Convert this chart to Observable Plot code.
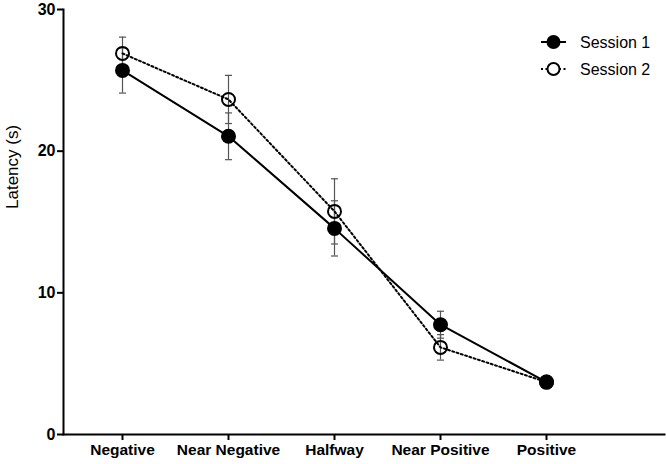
<!DOCTYPE html>
<html>
<head>
<meta charset="utf-8">
<script src="https://cdn.jsdelivr.net/npm/d3@7"></script>
<script src="https://cdn.jsdelivr.net/npm/@observablehq/plot@0.6"></script>
<style>
  body { margin: 0; background: #fff; }
  #wrap { position: relative; width: 666px; height: 464px; font-family: "Liberation Sans", Arial, sans-serif; }
  #wrap svg.plot { display: block; }
  #legend { position: absolute; left: 0; top: 0; pointer-events: none; }
</style>
</head>
<body>
<div id="wrap"></div>
<script>
const categories = ["Negative", "Near Negative", "Halfway", "Near Positive", "Positive"];
const session1 = [25.7, 21.05, 14.55, 7.75, 3.7];
const session1Err = [1.6, 1.65, 1.95, 0.95, 0.3];
const session2 = [26.9, 23.65, 15.75, 6.15, 3.7];
const session2Err = [1.15, 1.7, 2.3, 0.9, 0.3];
const yTicks = [0, 10, 20, 30];
const seriesNames = ["Session 1", "Session 2"];
const yLabel = "Latency (s)";

const s1 = categories.map((c, i) => ({cat: c, v: session1[i], e: session1Err[i]}));
const s2 = categories.map((c, i) => ({cat: c, v: session2[i], e: session2Err[i]}));
const all = s1.concat(s2);

const capSymbol = {
  draw(context, size) {
    const w = Math.sqrt(size);
    context.moveTo(-w / 2, 0);
    context.lineTo(w / 2, 0);
  }
};

const chart = Plot.plot({
  width: 666,
  height: 464,
  marginLeft: 63,
  marginRight: 2,
  marginTop: 9,
  marginBottom: 30,
  style: {fontFamily: '"Liberation Sans", Arial, sans-serif', color: "black", background: "white"},
  x: {type: "point", domain: categories, range: [120, 547], padding: 0},
  y: {domain: [0, 30]},
  marks: [
    Plot.axisY({ticks: yTicks, tickSize: 6, tickPadding: 2, tickFormat: d => d, fontSize: 16, fontWeight: "bold", strokeWidth: 2, label: null}),
    Plot.text([yLabel], {frameAnchor: "left", rotate: -90, dx: -50.5, dy: -13, fontSize: 17, text: d => d}),
    Plot.axisX({tickSize: 6, tickPadding: 3, fontSize: 15.5, fontWeight: "bold", strokeWidth: 2, label: null}),
    Plot.frame({anchor: "left", stroke: "black", strokeWidth: 2}),
    Plot.frame({anchor: "bottom", stroke: "black", strokeWidth: 2}),
    Plot.ruleX(all, {x: "cat", y1: d => d.v - d.e, y2: d => d.v + d.e, stroke: "#555", strokeWidth: 1.2}),
    Plot.dot(all, {x: "cat", y: d => d.v - d.e, symbol: capSymbol, r: 4, stroke: "#555", strokeWidth: 1.2}),
    Plot.dot(all, {x: "cat", y: d => d.v + d.e, symbol: capSymbol, r: 4, stroke: "#555", strokeWidth: 1.2}),
    Plot.line(s2, {x: "cat", y: "v", stroke: "black", strokeWidth: 2, strokeDasharray: "2,2.5"}),
    Plot.line(s1, {x: "cat", y: "v", stroke: "black", strokeWidth: 2}),
    Plot.dot(s2, {x: "cat", y: "v", r: 6.5, stroke: "black", strokeWidth: 2, fill: "none"}),
    Plot.dot(s1, {x: "cat", y: "v", r: 7.5, fill: "black", stroke: "none"})
  ]
});
document.getElementById("wrap").appendChild(chart);

// Legend overlay
const leg = d3.select("#wrap").append("svg").attr("id", "legend").attr("width", 666).attr("height", 464);
seriesNames.forEach((name, i) => {
  const cy = 42 + i * 27;
  const g = leg.append("g");
  g.append("line").attr("x1", 541).attr("x2", 566).attr("y1", cy).attr("y2", cy)
    .attr("stroke", "black").attr("stroke-width", 2).attr("stroke-dasharray", i === 1 ? "2,2.5" : null);
  if (i === 0) g.append("circle").attr("cx", 553.5).attr("cy", cy).attr("r", 7).attr("fill", "black");
  else g.append("circle").attr("cx", 553.5).attr("cy", cy).attr("r", 6).attr("fill", "white").attr("stroke", "black").attr("stroke-width", 2);
  g.append("text").attr("x", 580).attr("y", cy + 6).attr("font-size", 16)
    .attr("font-family", '"Liberation Sans", Arial, sans-serif').text(name);
});
</script>
</body>
</html>
